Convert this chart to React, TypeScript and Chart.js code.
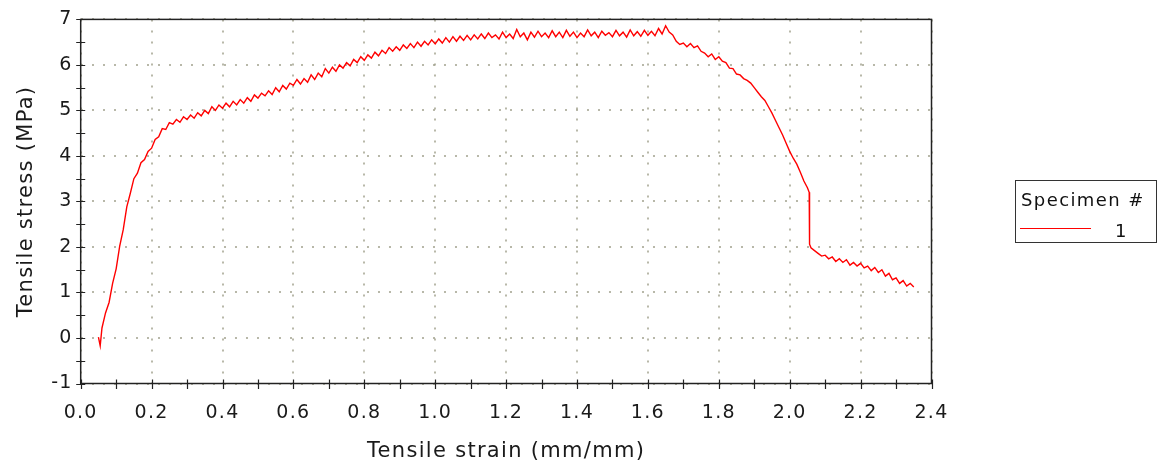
import React, { useEffect, useRef } from "react";
import { Chart, registerables } from "chart.js";

Chart.register(...registerables);

const seriesLabel = "1";
const legendTitle = "Specimen #";
const xTitle = "Tensile strain (mm/mm)";
const yTitle = "Tensile stress (MPa)";

const strain: number[] = [
  0.05, 0.055, 0.06, 0.07, 0.08, 0.09, 0.10, 0.11, 0.12, 0.13, 0.14, 0.15, 0.16, 0.17, 0.18, 0.19,
  0.20, 0.21, 0.22, 0.23, 0.24, 0.25, 0.26, 0.27, 0.28, 0.29, 0.30, 0.31, 0.32, 0.33, 0.34, 0.35,
  0.36, 0.37, 0.38, 0.39, 0.40, 0.41, 0.42, 0.43, 0.44, 0.45, 0.46, 0.47, 0.48, 0.49, 0.50, 0.51,
  0.52, 0.53, 0.54, 0.55, 0.56, 0.57, 0.58, 0.59, 0.60, 0.61, 0.62, 0.63, 0.64, 0.65, 0.66, 0.67,
  0.68, 0.69, 0.70, 0.71, 0.72, 0.73, 0.74, 0.75, 0.76, 0.77, 0.78, 0.79, 0.80, 0.81, 0.82, 0.83,
  0.84, 0.85, 0.86, 0.87, 0.88, 0.89, 0.90, 0.91, 0.92, 0.93, 0.94, 0.95, 0.96, 0.97, 0.98, 0.99,
  1.00, 1.01, 1.02, 1.03, 1.04, 1.05, 1.06, 1.07, 1.08, 1.09, 1.10, 1.11, 1.12, 1.13, 1.14, 1.15,
  1.16, 1.17, 1.18, 1.19, 1.20, 1.21, 1.22, 1.23, 1.24, 1.25, 1.26, 1.27, 1.28, 1.29, 1.30, 1.31,
  1.32, 1.33, 1.34, 1.35, 1.36, 1.37, 1.38, 1.39, 1.40, 1.41, 1.42, 1.43, 1.44, 1.45, 1.46, 1.47,
  1.48, 1.49, 1.50, 1.51, 1.52, 1.53, 1.54, 1.55, 1.56, 1.57, 1.58, 1.59, 1.60, 1.61, 1.62, 1.63,
  1.64, 1.65, 1.66, 1.67, 1.68, 1.69, 1.70, 1.71, 1.72, 1.73, 1.74, 1.75, 1.76, 1.77, 1.78, 1.79,
  1.80, 1.81, 1.82, 1.83, 1.84, 1.85, 1.86, 1.87, 1.88, 1.89, 1.90, 1.91, 1.92, 1.93, 1.94, 1.95,
  1.96, 1.97, 1.98, 1.99, 2.00, 2.01, 2.02, 2.03, 2.04, 2.05, 2.055, 2.056, 2.06, 2.07, 2.08, 2.09,
  2.10, 2.11, 2.12, 2.13, 2.14, 2.15, 2.16, 2.17, 2.18, 2.19, 2.20, 2.21, 2.22, 2.23, 2.24, 2.25,
  2.26, 2.27, 2.28, 2.29, 2.30, 2.31, 2.32, 2.33, 2.34, 2.35,
];

const stress: number[] = [
  0.02, -0.17, 0.22, 0.55, 0.78, 1.2, 1.52, 2.02, 2.38, 2.88, 3.18, 3.5, 3.62, 3.85, 3.92, 4.1,
  4.17, 4.36, 4.42, 4.6, 4.58, 4.73, 4.7, 4.8, 4.74, 4.86, 4.8, 4.9, 4.83, 4.95, 4.88, 5.0,
  4.93, 5.08, 5.0, 5.12, 5.05, 5.16, 5.08, 5.2, 5.12, 5.24, 5.16, 5.28, 5.2, 5.34, 5.27, 5.38,
  5.32, 5.43, 5.35, 5.5, 5.41, 5.55, 5.47, 5.6, 5.55, 5.68, 5.58, 5.7, 5.62, 5.78, 5.68, 5.82,
  5.74, 5.92, 5.82, 5.95, 5.86, 6.0, 5.93, 6.05, 5.98, 6.12, 6.05, 6.18, 6.1, 6.22, 6.15, 6.28,
  6.2, 6.32, 6.25, 6.38, 6.3, 6.4, 6.32, 6.44, 6.36, 6.47, 6.38, 6.5, 6.41, 6.52, 6.44, 6.55,
  6.46, 6.57, 6.48, 6.6, 6.5, 6.62, 6.52, 6.63, 6.54, 6.65, 6.55, 6.66, 6.57, 6.68, 6.58, 6.7,
  6.6, 6.66, 6.57, 6.72, 6.6, 6.68, 6.58, 6.78, 6.62, 6.7, 6.55, 6.72, 6.61, 6.74, 6.62, 6.7,
  6.6, 6.75, 6.62, 6.72, 6.6, 6.76, 6.63, 6.72, 6.6, 6.7, 6.62, 6.77, 6.64, 6.72, 6.6, 6.74,
  6.65, 6.71, 6.62, 6.76, 6.64, 6.72, 6.61, 6.77, 6.64, 6.73, 6.63, 6.76, 6.65, 6.74, 6.64, 6.8,
  6.68, 6.86, 6.72, 6.66, 6.52, 6.45, 6.48, 6.4, 6.47, 6.38, 6.42, 6.3, 6.26, 6.18, 6.24, 6.12,
  6.18, 6.08, 6.05, 5.93, 5.92, 5.8, 5.78, 5.7, 5.66, 5.6, 5.5, 5.4, 5.3, 5.22, 5.08, 4.94,
  4.78, 4.62, 4.46, 4.28, 4.1, 3.95, 3.82, 3.64, 3.45, 3.3, 3.2, 2.06, 1.98, 1.92, 1.86, 1.8,
  1.82, 1.74, 1.78, 1.68, 1.74, 1.66, 1.72, 1.6, 1.66, 1.58, 1.64, 1.54, 1.58, 1.48, 1.55, 1.44,
  1.5, 1.36, 1.42, 1.28, 1.32, 1.2, 1.26, 1.14, 1.2, 1.12,
];

const FONT = "'DejaVu Sans', Verdana, sans-serif";
const LETTER_SPACING = "1.3px";

const spacingPlugin = {
  id: "letterSpacing",
  beforeUpdate(chart: any) {
    chart.ctx.letterSpacing = LETTER_SPACING;
  },
  beforeLayout(chart: any) {
    chart.ctx.letterSpacing = LETTER_SPACING;
  },
  beforeDraw(chart: any) {
    chart.ctx.letterSpacing = LETTER_SPACING;
  },
};

const framePlugin = {
  id: "frameTicks",
  afterDraw(chart: any) {
    const { ctx, chartArea } = chart;
    const xs = chart.scales.x;
    const ys = chart.scales.y;
    ctx.save();
    ctx.strokeStyle = "#222";
    ctx.lineWidth = 1.5;
    ctx.strokeRect(chartArea.left, chartArea.top, chartArea.right - chartArea.left, chartArea.bottom - chartArea.top);
    ctx.lineWidth = 1.2;
    ctx.beginPath();
    for (let v = -1; v <= 7.001; v += 0.5) {
      const y = Math.round(ys.getPixelForValue(v)) + 0.5;
      ctx.moveTo(chartArea.left - 4.5, y);
      ctx.lineTo(chartArea.left + 4.5, y);
    }
    for (let v = 0; v <= 2.4001; v += 0.1) {
      const x = Math.round(xs.getPixelForValue(v)) + 0.5;
      ctx.moveTo(x, chartArea.bottom - 4);
      ctx.lineTo(x, chartArea.bottom + 5.5);
    }
    ctx.stroke();
    ctx.restore();
  },
};

const legendPlugin = {
  id: "boxLegend",
  afterDraw(chart: any) {
    const { ctx } = chart;
    const ds = chart.data.datasets[0];
    ctx.save();
    ctx.letterSpacing = "1.4px";
    ctx.strokeStyle = "#333";
    ctx.lineWidth = 1;
    ctx.strokeRect(1015.5, 180.5, 141, 62);
    ctx.fillStyle = "#111";
    ctx.font = `18px ${FONT}`;
    ctx.textBaseline = "alphabetic";
    ctx.textAlign = "left";
    ctx.fillText(legendTitle, 1021, 205.5);
    ctx.strokeStyle = ds.borderColor;
    ctx.lineWidth = 1;
    ctx.beginPath();
    ctx.moveTo(1020, 228.5);
    ctx.lineTo(1091, 228.5);
    ctx.stroke();
    ctx.fillText(ds.label, 1115, 236.5);
    ctx.restore();
  },
};

export default function App() {
  const ref = useRef<HTMLCanvasElement | null>(null);
  useEffect(() => {
    if (!ref.current) return;
    const points = strain.map((s, i) => ({ x: s, y: stress[i] }));
    const gridStyle = {
      color: "rgba(160,160,140,0.75)",
      lineWidth: 2,
      drawTicks: false,
    };
    const borderStyle = { display: false, dash: [2, 9] };
    const chart = new Chart(ref.current, {
      type: "scatter",
      data: {
        datasets: [
          {
            label: seriesLabel,
            data: points,
            showLine: true,
            borderColor: "#ff0000",
            backgroundColor: "#ff0000",
            borderWidth: 1.4,
            pointRadius: 0,
            tension: 0,
          },
        ],
      },
      options: {
        animation: false,
        responsive: true,
        maintainAspectRatio: false,
        layout: { padding: { left: 0, right: 229.5, top: 15, bottom: 0 } },
        plugins: { legend: { display: false }, tooltip: { enabled: false } },
        scales: {
          x: {
            type: "linear",
            min: 0,
            max: 2.4,
            border: borderStyle as any,
            grid: gridStyle as any,
            ticks: {
              stepSize: 0.2,
              padding: 18,
              color: "#1a1a1a",
              font: { family: FONT, size: 19 },
              maxRotation: 0,
              callback: (v: any) => Number(v).toFixed(1),
            },
            title: {
              display: true,
              text: xTitle,
              color: "#1a1a1a",
              font: { family: FONT, size: 21 },
              padding: { top: 0, bottom: 3 },
            },
            afterFit: (s: any) => {
              s.height = 83.5;
            },
          },
          y: {
            type: "linear",
            min: -1,
            max: 7,
            border: borderStyle as any,
            grid: gridStyle as any,
            ticks: {
              stepSize: 1,
              padding: 8,
              color: "#1a1a1a",
              font: { family: FONT, size: 19 },
            },
            title: {
              display: true,
              text: yTitle,
              color: "#1a1a1a",
              font: { family: FONT, size: 21 },
              padding: { top: 14, bottom: 0 },
            },
            afterFit: (s: any) => {
              s.width = 80.7;
            },
          },
        },
      },
      plugins: [spacingPlugin, framePlugin, legendPlugin],
    });
    return () => chart.destroy();
  }, []);
  return (
    <div style={{ position: "absolute", left: 0, top: 0, width: 1161, height: 467, background: "#fff" }}>
      <canvas ref={ref} />
    </div>
  );
}
